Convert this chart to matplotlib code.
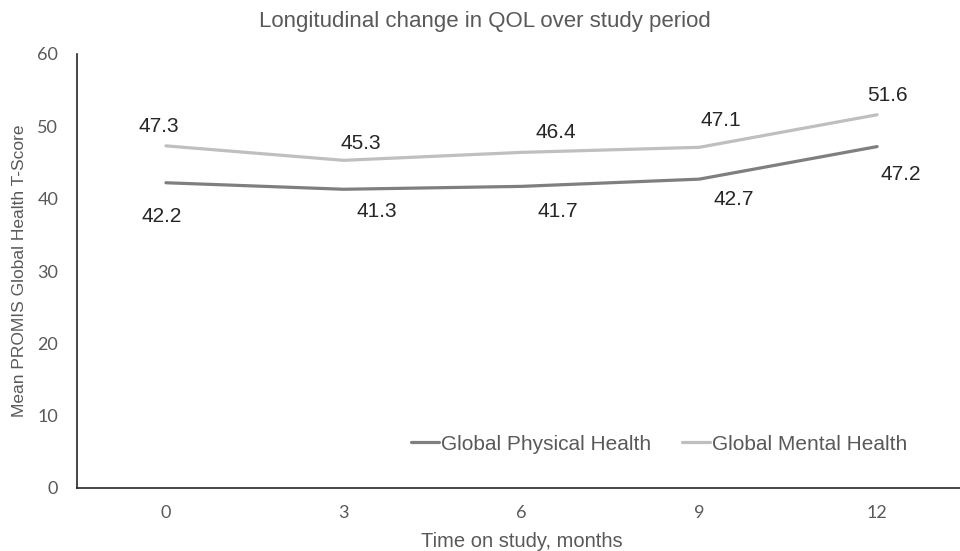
import matplotlib
matplotlib.use("Agg")
import matplotlib.pyplot as plt

months = ["0", "3", "6", "9", "12"]
physical = [42.2, 41.3, 41.7, 42.7, 47.2]
mental = [47.3, 45.3, 46.4, 47.1, 51.6]

# hand-placed label offsets (pixels, dx right / dy up) as in the original
phys_off = [(-4, -34), (33, -22), (36, -25), (34, -20), (24, -28)]
ment_off = [(-7, 19), (17, 17), (34, 20), (22, 27), (10, 19)]

GRAY_TXT = "#595959"

fig = plt.figure(figsize=(9.6, 5.51), dpi=100)
ax = fig.add_axes([77 / 960, 63 / 551, 889 / 960, 434 / 551])

x = range(len(months))
ax.plot(x, physical, color="#7f7f7f", lw=2.3, solid_capstyle="round", label="Global Physical Health")
ax.plot(x, mental, color="#bfbfbf", lw=2.3, solid_capstyle="round", label="Global Mental Health")

for i, v in enumerate(physical):
    ax.annotate(f"{v:.1f}", (i, v), xytext=(phys_off[i][0] * 0.72, phys_off[i][1] * 0.72),
                textcoords="offset points", ha="center", va="center",
                fontsize=15, color="#262626", family="Liberation Sans")
for i, v in enumerate(mental):
    ax.annotate(f"{v:.1f}", (i, v), xytext=(ment_off[i][0] * 0.72, ment_off[i][1] * 0.72),
                textcoords="offset points", ha="center", va="center",
                fontsize=15, color="#262626", family="Liberation Sans")

ax.set_xlim(-0.5, len(months) - 0.5)
ax.set_ylim(0, 60)
ax.set_yticks(range(0, 61, 10))
ax.set_xticks(list(x))
ax.set_xticklabels(months)
ax.tick_params(length=0, labelsize=13, labelcolor=GRAY_TXT)
ax.tick_params(axis="y", pad=13.5)
ax.tick_params(axis="x", pad=12)
for lab in ax.get_xticklabels() + ax.get_yticklabels():
    lab.set_family("Lato")

for s in ["top", "right"]:
    ax.spines[s].set_visible(False)
for s in ["left", "bottom"]:
    ax.spines[s].set_color("#262626")
    ax.spines[s].set_linewidth(1.2)

ax.set_xlabel("Time on study, months", fontsize=14.5, color=GRAY_TXT, family="Liberation Sans")
ax.set_ylabel("Mean PROMIS Global Health T-Score", fontsize=12.5, color=GRAY_TXT, family="Liberation Sans")
ax.xaxis.set_label_coords(0.5, -0.101)
ax.yaxis.set_label_coords(-0.056, 0.5)

fig.text(485 / 960, 1 - 21 / 551, "Longitudinal change in QOL over study period", ha="center", va="center",
         fontsize=16, color=GRAY_TXT, family="Liberation Sans")

leg = ax.legend(loc="center", bbox_to_anchor=(659 / 960, 1 - 444 / 551), bbox_transform=fig.transFigure,
                ncol=2, frameon=False, handlelength=1.35, handletextpad=0.08, columnspacing=1.5,
                borderpad=0, prop={"family": "Liberation Sans", "size": 15})
for t in leg.get_texts():
    t.set_color(GRAY_TXT)

fig.savefig("out.png", dpi=100)
